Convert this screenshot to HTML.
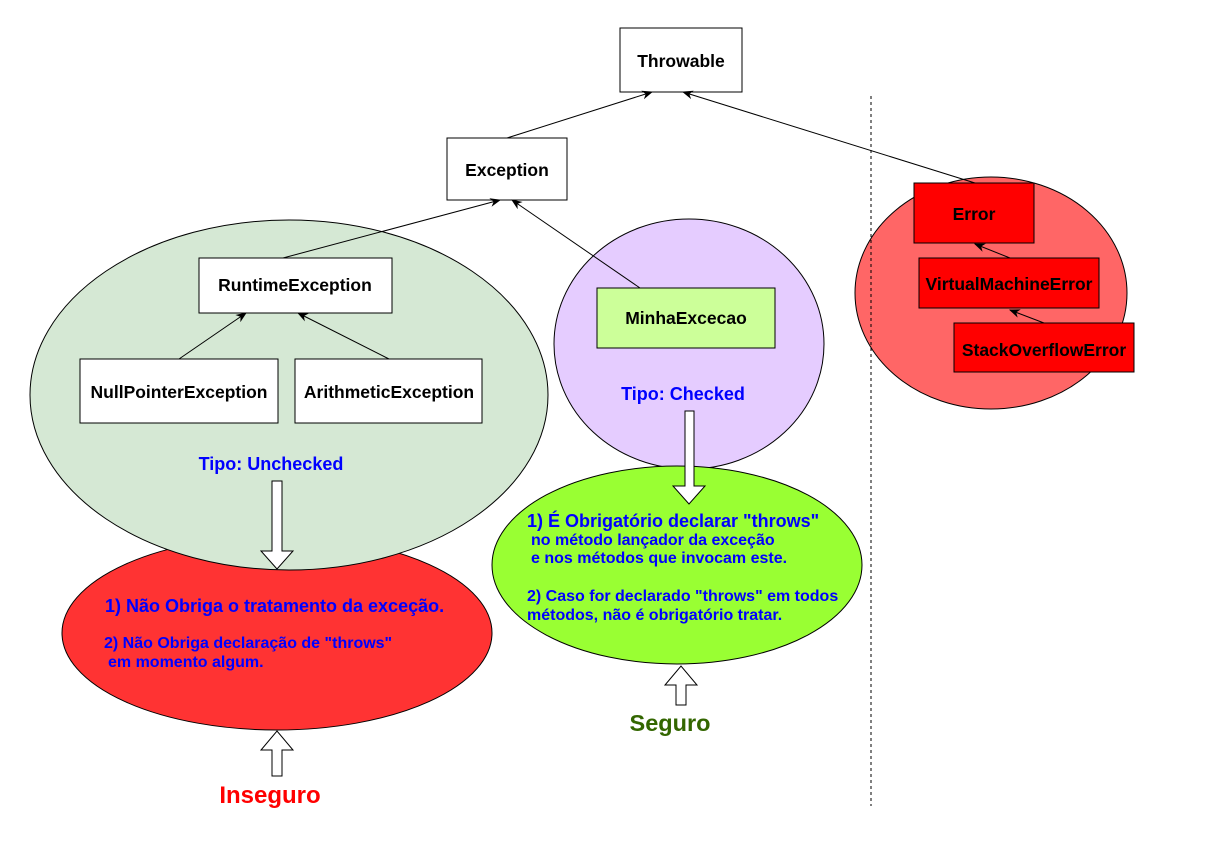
<!DOCTYPE html>
<html><head><meta charset="utf-8"><style>
html,body{margin:0;padding:0;background:#fff;}
svg text{font-family:"Liberation Sans",sans-serif;font-weight:bold;}
</style></head><body>
<svg width="1217" height="836" viewBox="0 0 1217 836" xmlns="http://www.w3.org/2000/svg">
<defs>
<marker id="a" viewBox="0 0 10 10" refX="9" refY="5" markerWidth="11" markerHeight="11" orient="auto" markerUnits="userSpaceOnUse"><path d="M0,1 L10,5 L0,9 L3,5 z" fill="#000"/></marker>
</defs>
<ellipse cx="991" cy="293" rx="136" ry="116" fill="#FF6666" stroke="#000"/>
<line x1="871" y1="96" x2="871" y2="806" stroke="#000" stroke-dasharray="3,3"/>
<ellipse cx="277" cy="633" rx="215" ry="97" fill="#FF3333" stroke="#000"/>
<ellipse cx="689" cy="344" rx="135" ry="125" fill="#E5CCFF" stroke="#000"/>
<ellipse cx="677" cy="565" rx="185" ry="99" fill="#99FF33" stroke="#000"/>
<ellipse cx="289" cy="395" rx="259" ry="175" fill="#D5E8D4" stroke="#000"/>

<rect x="620" y="28" width="122" height="64" fill="#fff" stroke="#000"/>
<text x="681" y="67" font-size="17.5" text-anchor="middle">Throwable</text>
<rect x="447" y="138" width="120" height="62" fill="#fff" stroke="#000"/>
<text x="507" y="176" font-size="17.5" text-anchor="middle">Exception</text>
<rect x="199" y="258" width="193" height="55" fill="#fff" stroke="#000"/>
<text x="295" y="291" font-size="17.5" text-anchor="middle">RuntimeException</text>
<rect x="80" y="359" width="198" height="64" fill="#fff" stroke="#000"/>
<text x="179" y="398" font-size="17.5" text-anchor="middle">NullPointerException</text>
<rect x="295" y="359" width="187" height="64" fill="#fff" stroke="#000"/>
<text x="389" y="398" font-size="17.5" text-anchor="middle">ArithmeticException</text>
<rect x="597" y="288" width="178" height="60" fill="#CCFF99" stroke="#000"/>
<text x="686" y="324" font-size="17.5" text-anchor="middle">MinhaExcecao</text>
<rect x="914" y="183" width="120" height="60" fill="#FF0000" stroke="#000"/>
<text x="974" y="220" font-size="17.5" text-anchor="middle">Error</text>
<rect x="919" y="258" width="180" height="50" fill="#FF0000" stroke="#000"/>
<text x="1009" y="290" font-size="17.5" text-anchor="middle">VirtualMachineError</text>
<rect x="954" y="323" width="180" height="49" fill="#FF0000" stroke="#000"/>
<text x="1044" y="356" font-size="17.5" text-anchor="middle">StackOverflowError</text>

<g stroke="#000" stroke-width="1" marker-end="url(#a)">
<line x1="507" y1="138" x2="652" y2="92"/>
<line x1="975" y1="183" x2="683" y2="92"/>
<line x1="283" y1="258" x2="500" y2="200"/>
<line x1="640" y1="288" x2="512" y2="200"/>
<line x1="179" y1="359" x2="246" y2="313"/>
<line x1="389" y1="359" x2="298" y2="313"/>
<line x1="1010" y1="258" x2="975" y2="244"/>
<line x1="1044" y1="323" x2="1010" y2="310"/>
</g>

<text x="271" y="470" font-size="18" fill="#0000FF" text-anchor="middle">Tipo: Unchecked</text>
<text x="683" y="400" font-size="18" fill="#0000FF" text-anchor="middle">Tipo: Checked</text>
<g fill="#0000FF">
<text x="105" y="612" font-size="18">1) Não Obriga o tratamento da exceção.</text>
<text x="104" y="648" font-size="16">2) Não Obriga declaração de "throws"</text>
<text x="108" y="667" font-size="16">em momento algum.</text>
<text x="527" y="527" font-size="18">1) É Obrigatório declarar "throws"</text>
<text x="531" y="545" font-size="16">no método lançador da exceção</text>
<text x="531" y="563" font-size="16">e nos métodos que invocam este.</text>
<text x="527" y="601" font-size="16">2) Caso for declarado "throws" em todos</text>
<text x="527" y="620" font-size="16">métodos, não é obrigatório tratar.</text>
</g>

<g fill="#fff" stroke="#000" stroke-width="1">
<path d="M272,481 H282 V551 H293 L277,569 L261,551 H272 Z"/>
<path d="M272,776 H282 V750 H293 L277,731 L261,750 H272 Z"/>
<path d="M685,411 H694 V486 H705 L689,504 L673,486 H685 Z"/>
<path d="M676,705 H686 V685 H697 L681,666 L665,685 H676 Z"/>
</g>
<text x="270" y="803" font-size="24" fill="#FF0000" text-anchor="middle">Inseguro</text>
<text x="670" y="731" font-size="23.5" fill="#336600" text-anchor="middle">Seguro</text>
</svg>
</body></html>
